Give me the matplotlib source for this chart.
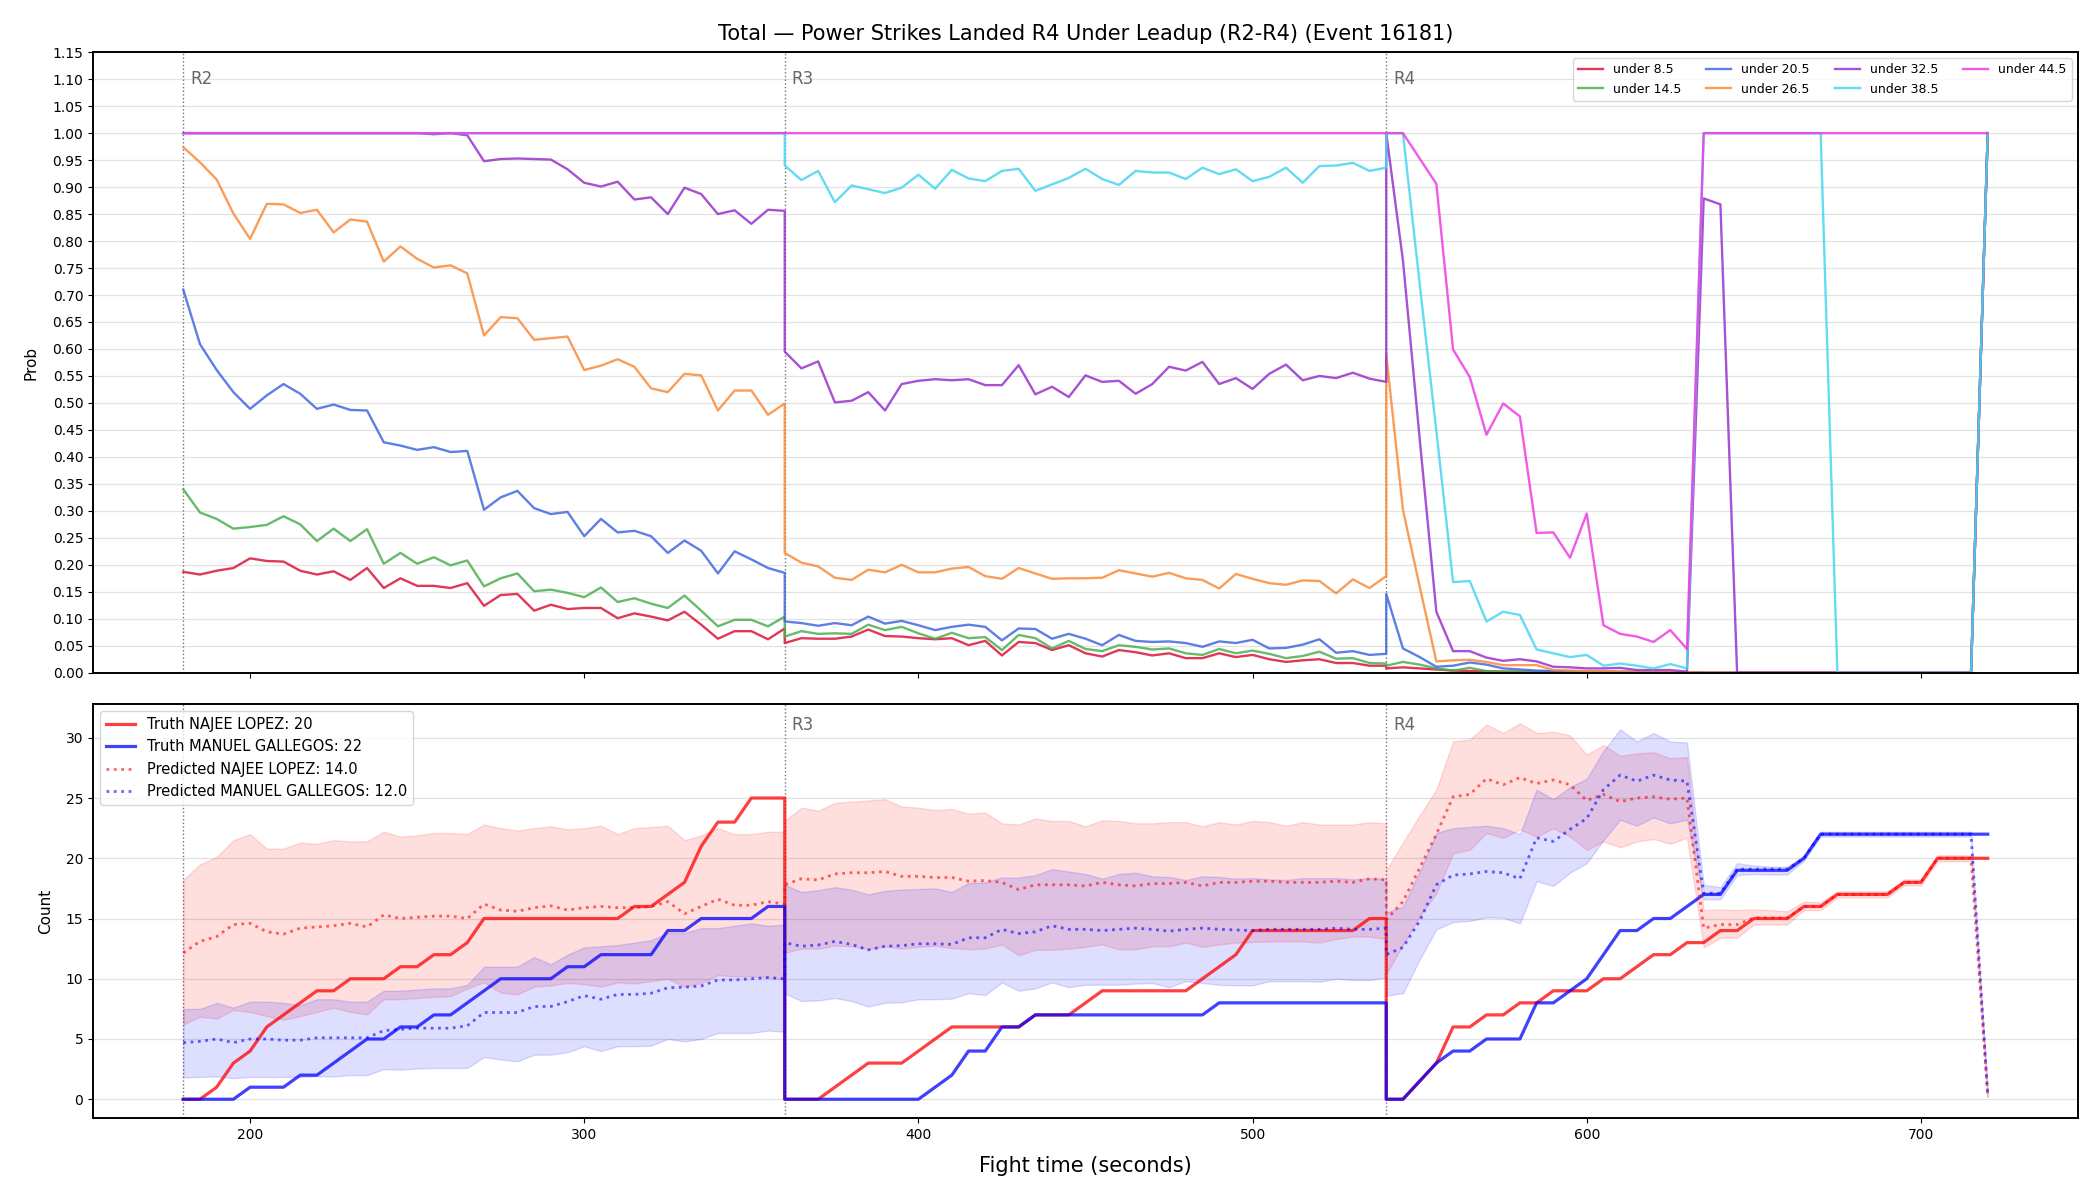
import numpy as np
import matplotlib
matplotlib.use("Agg")
import matplotlib.pyplot as plt

# ---------------- time grid (5 s steps, each round has its own segment) ----------------
t_r2 = np.arange(180, 361, 5)
t_r3 = np.arange(360, 541, 5)
t_r4 = np.arange(540, 721, 5)

rounds = [("R2", 180), ("R3", 360), ("R4", 540)]

# ---------------- top panel: P(under line) ----------------
labels_top = ["under 8.5", "under 14.5", "under 20.5", "under 26.5",
              "under 32.5", "under 38.5", "under 44.5"]
colors_top = ["#dc143c", "#4caf50", "#4169e1", "#fa8c3c",
              "#9932cc", "#48d6f2", "#ee3de2"]

u85_r2 = [0.187,0.182,0.189,0.194,0.212,0.207,0.206,0.189,0.182,0.188,0.172,0.194,0.157,0.175,0.161,0.161,0.157,0.166,0.124,0.144,0.146,0.115,0.126,0.118,0.120,0.120,0.101,0.110,0.104,0.097,0.113,0.089,0.063,0.077,0.077,0.062,0.082]
u85_r3 = [0.055,0.064,0.063,0.063,0.067,0.080,0.068,0.067,0.064,0.062,0.064,0.051,0.059,0.032,0.057,0.055,0.042,0.051,0.036,0.030,0.042,0.038,0.032,0.036,0.027,0.027,0.036,0.029,0.033,0.025,0.020,0.023,0.025,0.018,0.018,0.013,0.013]
u85_r4 = [0.008,0.010,0.008,0.006,0.004,0.003,0.003,0.002,0.002,0.002,0.002,0.001,0.001,0.001,0.001,0.001,0.001,0.001,0.001,
          0,0,0,0,0,0,0,0,0,0,0,0,0,0,0,0,0, 1.0]

u145_r2 = [0.340,0.297,0.285,0.267,0.270,0.274,0.290,0.275,0.244,0.267,0.244,0.266,0.202,0.222,0.202,0.214,0.199,0.208,0.160,0.175,0.184,0.151,0.154,0.148,0.140,0.158,0.131,0.138,0.128,0.120,0.143,0.115,0.086,0.098,0.098,0.086,0.104]
u145_r3 = [0.067,0.077,0.072,0.073,0.072,0.089,0.079,0.085,0.073,0.063,0.074,0.064,0.066,0.042,0.070,0.064,0.045,0.059,0.044,0.040,0.051,0.048,0.043,0.045,0.036,0.033,0.044,0.036,0.041,0.035,0.027,0.031,0.039,0.026,0.027,0.018,0.017]
u145_r4 = [0.013,0.020,0.015,0.008,0.004,0.009,0.003,0.002,0.002,0.002,0.001,0.001,0.001,0.001,0.001,0.001,0.001,0.001,0.001,
           0,0,0,0,0,0,0,0,0,0,0,0,0,0,0,0,0, 1.0]

u205_r2 = [0.710,0.609,0.561,0.520,0.489,0.514,0.535,0.517,0.489,0.497,0.487,0.486,0.427,0.421,0.413,0.418,0.409,0.411,0.302,0.325,0.337,0.305,0.294,0.298,0.253,0.285,0.260,0.263,0.253,0.222,0.245,0.226,0.184,0.225,0.210,0.194,0.185]
u205_r3 = [0.095,0.092,0.087,0.092,0.088,0.104,0.091,0.096,0.088,0.079,0.085,0.089,0.085,0.060,0.082,0.081,0.063,0.072,0.063,0.051,0.070,0.059,0.057,0.058,0.055,0.048,0.058,0.055,0.061,0.045,0.046,0.052,0.062,0.037,0.040,0.033,0.035]
u205_r4 = [0.146,0.045,0.029,0.011,0.013,0.019,0.015,0.008,0.006,0.004,0.003,0.003,0.002,0.002,0.002,0.002,0.001,0.001,0.001,
           0,0,0,0,0,0,0,0,0,0,0,0,0,0,0,0,0, 1.0]

u265_r2 = [0.974,0.946,0.914,0.851,0.804,0.869,0.868,0.852,0.858,0.816,0.840,0.836,0.762,0.790,0.767,0.751,0.755,0.740,0.625,0.659,0.657,0.617,0.620,0.623,0.561,0.569,0.581,0.567,0.527,0.520,0.554,0.551,0.486,0.523,0.523,0.478,0.499]
u265_r3 = [0.222,0.204,0.197,0.176,0.172,0.191,0.186,0.200,0.186,0.186,0.193,0.196,0.179,0.174,0.194,0.184,0.174,0.175,0.175,0.176,0.190,0.184,0.178,0.185,0.175,0.172,0.156,0.183,0.174,0.166,0.163,0.171,0.170,0.147,0.173,0.157,0.179]
u265_r4 = [0.590,0.302,0.160,0.021,0.023,0.024,0.020,0.014,0.014,0.014,0.005,0.004,0.003,0.003,0.002,0.002,0.002,0.001,0.001,
           0,0,0,0,0,0,0,0,0,0,0,0,0,0,0,0,0, 1.0]

u325_r2 = [1.0,1.0,1.0,1.0,1.0,1.0,1.0,1.0,1.0,1.0,1.0,1.0,1.0,1.0,1.0,0.998,1.0,0.996,0.948,0.952,0.953,0.952,0.951,0.933,0.908,0.901,0.910,0.877,0.881,0.850,0.899,0.887,0.850,0.857,0.832,0.858,0.856]
u325_r3 = [0.595,0.564,0.577,0.501,0.504,0.520,0.486,0.535,0.541,0.544,0.542,0.544,0.533,0.533,0.570,0.516,0.530,0.511,0.551,0.539,0.541,0.517,0.535,0.567,0.560,0.576,0.535,0.546,0.526,0.554,0.571,0.542,0.550,0.546,0.556,0.545,0.539]
u325_r4 = [1.0,0.764,0.434,0.113,0.040,0.040,0.028,0.022,0.025,0.021,0.011,0.010,0.008,0.008,0.009,0.005,0.005,0.005,0.002,
           0.879,0.868, 0,0,0,0,0,0,0,0,0,0,0,0,0,0,0, 1.0]

u385_r2 = [1.0] * 37
u385_r3 = [0.940,0.913,0.930,0.872,0.903,0.896,0.889,0.899,0.923,0.897,0.932,0.916,0.911,0.930,0.934,0.893,0.905,0.917,0.934,0.915,0.904,0.930,0.927,0.927,0.915,0.936,0.924,0.933,0.911,0.919,0.936,0.908,0.939,0.940,0.945,0.930,0.936]
u385_r4 = [1.0,1.0,0.721,0.448,0.168,0.170,0.095,0.113,0.107,0.043,0.036,0.029,0.033,0.013,0.017,0.013,0.008,0.016,0.008,
           1.0,1.0,1.0,1.0,1.0,1.0,1.0,1.0, 0,0,0,0,0,0,0,0,0, 1.0]

u445_r2 = [1.0] * 37
u445_r3 = [1.0] * 37
u445_r4 = [1.0,1.0,0.953,0.906,0.599,0.548,0.441,0.499,0.475,0.259,0.260,0.213,0.295,0.088,0.072,0.067,0.057,0.079,0.044,
           1.0,1.0,1.0,1.0,1.0,1.0,1.0,1.0,1.0,1.0,1.0,1.0,1.0,1.0,1.0,1.0,1.0,1.0]

# ---------------- bottom panel: counts ----------------
name_a = "NAJEE LOPEZ"
name_b = "MANUEL GALLEGOS"
final_truth_a = 20
final_truth_b = 22
final_pred_a = 14.0
final_pred_b = 12.0

truth_a_r2 = [0,0,1,3,4,6,7,8,9,9,10,10,10,11,11,12,12,13,15,15,15,15,15,15,15,15,15,16,16,17,18,21,23,23,25,25,25]
truth_a_r3 = [0,0,0,1,2,3,3,3,4,5,6,6,6,6,6,7,7,7,8,9,9,9,9,9,9,10,11,12,14,14,14,14,14,14,14,15,15]
truth_a_r4 = [0,0,1.5,3,6,6,7,7,8,8,9,9,9,10,10,11,12,12,13,13,14,14,15,15,15,16,16,17,17,17,17,18,18,20,20,20,20]

truth_b_r2 = [0,0,0,0,1,1,1,2,2,3,4,5,5,6,6,7,7,8,9,10,10,10,10,11,11,12,12,12,12,14,14,15,15,15,15,16,16]
truth_b_r3 = [0,0,0,0,0,0,0,0,0,1,2,4,4,6,6,7,7,7,7,7,7,7,7,7,7,7,8,8,8,8,8,8,8,8,8,8,8]
truth_b_r4 = [0,0,1.5,3,4,4,5,5,5,8,8,9,10,12,14,14,15,15,16,17,17,19,19,19,19,20,22,22,22,22,22,22,22,22,22,22,22]

pred_a_r2 = [12.15,13.1,13.5,14.5,14.6,13.9,13.7,14.2,14.3,14.4,14.6,14.3,15.3,15.0,15.1,15.2,15.2,15.0,16.2,15.7,15.6,15.9,16.05,15.7,15.9,16.0,15.9,15.9,16.0,16.4,15.4,16.0,16.6,16.1,16.1,16.4,16.2]
pred_a_r3 = [17.8,18.3,18.2,18.7,18.8,18.8,18.9,18.5,18.5,18.4,18.4,18.1,18.15,18.0,17.4,17.8,17.8,17.8,17.7,18.0,17.8,17.7,17.9,17.9,18.0,17.7,18.0,18.0,18.1,18.1,18.0,18.0,18.0,18.1,18.0,18.3,18.2]
pred_a_r4 = [14.9,16.4,19.2,22.0,25.1,25.3,26.6,26.1,26.7,26.2,26.5,26.1,24.8,25.3,24.7,25.0,25.1,24.9,25.0,
             14.2,14.5,14.5,15.05,15.05,15.05,16.0,16.0,17.0,17.0,17.0,17.0,18.0,18.0,20.0,20.0,20.0,0.3]

hi_a_r2 = [18.2,19.5,20.1,21.5,22.0,20.8,20.8,21.3,21.2,21.5,21.4,21.4,22.2,21.8,21.9,22.1,22.1,22.0,22.8,22.5,22.3,22.5,22.65,22.4,22.5,22.7,22.0,22.5,22.6,22.7,21.5,21.9,22.5,22.0,22.0,22.2,22.2]
hi_a_r3 = [23.1,24.2,23.95,24.6,24.7,24.8,24.9,24.3,24.2,24.0,24.1,23.7,23.8,22.9,22.8,23.3,23.1,23.1,22.65,23.15,23.1,22.9,22.9,23.0,23.0,22.65,23.0,22.8,23.1,23.0,22.7,23.0,22.8,22.8,22.8,23.0,22.9]
hi_a_r4 = [19.0,21.3,23.55,25.7,29.7,29.85,31.1,30.4,31.2,30.4,30.5,30.2,28.6,29.4,28.5,28.7,28.8,28.3,28.4,
           15.7,15.75,15.7,15.75,15.7,15.6,16.4,16.35,17.25,17.25,17.25,17.25,18.25,18.25,20.25,20.25,20.25,0.4]

lo_a_r2 = [6.2,6.85,6.7,7.4,7.25,6.9,6.6,6.9,7.25,7.6,7.25,7.05,8.3,8.3,8.4,8.5,8.55,9.2,9.7,8.85,8.7,9.35,9.45,9.65,9.55,9.35,9.7,9.6,9.8,10.0,9.35,9.65,10.3,10.2,10.2,10.1,9.95]
lo_a_r3 = [12.15,12.5,12.5,12.75,12.7,12.45,12.7,12.5,12.65,12.75,12.55,12.45,12.5,12.85,11.95,12.4,12.4,12.5,12.65,12.85,12.45,12.45,12.7,12.7,13.0,12.65,12.85,13.0,13.05,13.1,13.1,13.1,13.0,13.3,13.5,13.5,13.3]
lo_a_r4 = [10.4,12.8,15.2,17.1,20.4,20.7,22.1,21.7,22.4,21.8,22.5,21.8,20.7,21.4,20.9,21.4,21.6,21.2,21.7,
           12.6,13.4,13.4,14.5,14.5,14.5,15.7,15.7,16.75,16.75,16.75,16.75,17.75,17.75,19.75,19.75,19.75,0.2]

pred_b_r2 = [4.7,4.8,5.0,4.7,5.0,5.0,4.9,4.9,5.1,5.1,5.1,5.1,5.7,5.8,5.9,5.9,5.9,6.1,7.2,7.2,7.2,7.7,7.7,8.1,8.6,8.3,8.7,8.7,8.8,9.25,9.3,9.4,9.9,9.9,10.0,10.1,10.0]
pred_b_r3 = [13.0,12.7,12.8,13.1,12.85,12.4,12.7,12.75,12.9,12.9,12.85,13.4,13.4,14.1,13.75,13.9,14.4,14.1,14.1,14.0,14.1,14.2,14.1,13.95,14.1,14.2,14.1,14.05,14.0,14.1,14.1,14.1,14.1,14.2,14.1,14.1,14.2]
pred_b_r4 = [12.0,12.6,14.8,17.8,18.6,18.7,18.9,18.8,18.3,21.7,21.4,22.4,23.3,25.7,26.9,26.4,26.9,26.5,26.4,
             17.1,17.1,19.1,19.1,19.1,19.1,20.0,22.0,22.0,22.0,22.0,22.0,22.0,22.0,22.0,22.0,22.0,0.3]

hi_b_r2 = [7.5,7.5,8.0,7.6,8.1,8.1,8.0,7.8,8.3,8.3,8.1,8.1,9.0,9.0,9.1,9.2,9.2,9.5,11.0,11.0,11.0,11.8,11.2,12.0,12.6,12.7,12.8,13.0,13.2,13.8,13.8,14.2,14.2,14.4,14.6,14.4,14.5]
hi_b_r3 = [17.8,17.2,17.35,17.6,17.4,17.0,17.3,17.4,17.45,17.5,17.2,17.95,18.0,18.4,18.4,18.6,19.1,18.9,18.7,18.3,18.7,18.8,18.5,18.45,18.2,18.5,18.45,18.3,18.35,18.25,18.2,18.35,18.35,18.35,18.25,18.35,18.3]
hi_b_r4 = [15.5,16.0,18.9,22.1,22.5,22.6,22.7,22.5,22.0,25.7,24.9,25.9,26.6,28.9,30.7,29.7,30.4,29.7,29.6,
           17.8,17.6,19.6,19.4,19.3,19.3,20.2,22.2,22.2,22.2,22.2,22.2,22.2,22.2,22.2,22.2,22.2,0.4]

lo_b_r2 = [1.8,1.85,1.9,1.75,1.85,1.85,1.85,1.85,1.9,1.9,2.0,2.0,2.5,2.45,2.55,2.6,2.6,2.6,3.5,3.3,3.15,3.7,3.7,3.9,4.4,4.0,4.4,4.4,4.45,5.0,4.8,5.0,5.5,5.5,5.5,5.7,5.6]
lo_b_r3 = [8.8,8.15,8.2,8.4,8.15,7.7,8.0,8.05,8.3,8.3,8.35,8.8,8.65,9.7,9.0,9.2,9.7,9.3,9.5,9.5,9.5,9.6,9.65,9.3,9.8,9.65,9.5,9.45,9.45,9.8,9.8,9.8,9.75,10.0,9.9,9.9,10.1]
lo_b_r4 = [8.6,8.8,11.6,14.1,14.7,14.8,15.1,15.05,14.6,18.1,17.7,18.8,19.6,21.5,23.2,22.7,23.4,22.9,23.2,
           16.6,16.6,18.6,18.7,18.65,18.65,19.8,21.8,21.8,21.8,21.8,21.8,21.8,21.8,21.8,21.8,21.8,0.2]

title = "Total \u2014 Power Strikes Landed R4 Under Leadup (R2-R4) (Event 16181)"

# ---------------- assemble ----------------
t_all = np.concatenate([t_r2, t_r3, t_r4])

def cat(a, b, c):
    return np.concatenate([np.asarray(a, float), np.asarray(b, float), np.asarray(c, float)])

top_series = [cat(u85_r2, u85_r3, u85_r4), cat(u145_r2, u145_r3, u145_r4),
              cat(u205_r2, u205_r3, u205_r4), cat(u265_r2, u265_r3, u265_r4),
              cat(u325_r2, u325_r3, u325_r4), cat(u385_r2, u385_r3, u385_r4),
              cat(u445_r2, u445_r3, u445_r4)]

truth_a = cat(truth_a_r2, truth_a_r3, truth_a_r4)
truth_b = cat(truth_b_r2, truth_b_r3, truth_b_r4)
pred_a = cat(pred_a_r2, pred_a_r3, pred_a_r4)
pred_b = cat(pred_b_r2, pred_b_r3, pred_b_r4)
hi_a = cat(hi_a_r2, hi_a_r3, hi_a_r4)
lo_a = cat(lo_a_r2, lo_a_r3, lo_a_r4)
hi_b = cat(hi_b_r2, hi_b_r3, hi_b_r4)
lo_b = cat(lo_b_r2, lo_b_r3, lo_b_r4)

# ---------------- figure ----------------
plt.rcParams['axes.linewidth'] = 1.4
fig = plt.figure(figsize=(21, 12), dpi=100)
ax1 = fig.add_axes([0.0443, 0.4394, 0.9452, 0.5171])
ax2 = fig.add_axes([0.0443, 0.0683, 0.9452, 0.3450], sharex=ax1)

for y, lab, col in zip(top_series, labels_top, colors_top):
    ax1.plot(t_all, y, color=col, lw=1.7, alpha=0.85, label=lab)

ax1.set_ylim(0, 1.15)
ax1.set_yticks(np.round(np.arange(0, 1.1501, 0.05), 2))
ax1.set_yticklabels([f"{v:.2f}" for v in np.arange(0, 1.1501, 0.05)])
ax1.set_ylabel("Prob", fontsize=11, labelpad=10)
ax1.grid(axis='y', color='#e2e2e2', lw=0.9)
ax1.set_axisbelow(True)
ax1.tick_params(labelbottom=False)
ax1.set_title(title, fontsize=15, pad=9)
ax1.legend(loc='upper right', ncol=4, fontsize=9)

for lab, x in rounds:
    ax1.axvline(x, color='0.45', ls=':', lw=1.0, zorder=1)
    ax1.text(x + 2, 0.972, lab, transform=ax1.get_xaxis_transform(),
             ha='left', va='top', fontsize=12, color='0.4', zorder=1)
    ax2.axvline(x, color='0.45', ls=':', lw=1.0, zorder=1)
    if lab != "R2":
        ax2.text(x + 2, 0.972, lab, transform=ax2.get_xaxis_transform(),
                 ha='left', va='top', fontsize=12, color='0.4', zorder=1)

ax2.fill_between(t_all, lo_a, hi_a, color='red', alpha=0.13)
ax2.fill_between(t_all, lo_b, hi_b, color='blue', alpha=0.13)
ax2.plot(t_all, truth_a, color='red', lw=2.3, alpha=0.75, label=f"Truth {name_a}: {final_truth_a}")
ax2.plot(t_all, truth_b, color='blue', lw=2.3, alpha=0.75, label=f"Truth {name_b}: {final_truth_b}")
ax2.plot(t_all, pred_a, color='red', lw=2.0, ls=':', alpha=0.6, label=f"Predicted {name_a}: {final_pred_a}")
ax2.plot(t_all, pred_b, color='blue', lw=2.0, ls=':', alpha=0.6, label=f"Predicted {name_b}: {final_pred_b}")
ax2.set_ylim(-1.56, 32.8)
ax2.set_ylabel("Count", fontsize=11, labelpad=9)
ax2.set_xlabel("Fight time (seconds)", fontsize=15, labelpad=10)
ax2.grid(axis='y', color='#e2e2e2', lw=0.9)
ax2.set_axisbelow(True)
ax2.legend(loc='upper left', fontsize=10.5)

fig.savefig("out.png", dpi=100)
